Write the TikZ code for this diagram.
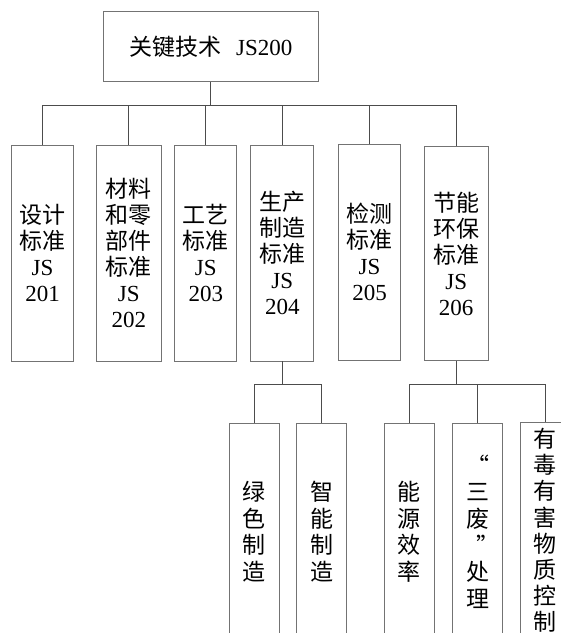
\documentclass[tikz,border=0pt]{standalone}
\usepackage{fontspec}
\setmainfont{Liberation Serif}
\newfontfamily\cjkfont{Noto Sans CJK SC}
\newcommand\lat[1]{{\rmfamily #1}}
\begin{document}
\begin{tikzpicture}[x=1pt,y=-1pt,
  box/.style={draw=black!55, line width=0.8pt, inner sep=0pt, align=center,
    font=\cjkfont\fontsize{23}{26}\selectfont},
  kid/.style={box, minimum height=215.5pt},
  leaf/.style={box, minimum width=50pt, text width=48pt, minimum height=216.7pt,
    font=\cjkfont\fontsize{23}{26.7}\selectfont},
  conn/.style={draw=black!70, line width=0.8pt}]
\useasboundingbox (0,0) rectangle (561,633);
\clip (0,0) rectangle (561,633);
\fill[white] (0,0) rectangle (561,633);

\node[box, minimum width=215pt, minimum height=70pt, text width=210pt] (top) at (210.8,46.6)
  {关键技术\hspace{15pt}\lat{JS200}};

\node[kid, minimum width=61.5pt, text width=58pt] (c1) at (42.6,253.3) {设计\\标准\\\lat{JS}\\\lat{201}};
\node[kid, minimum width=65pt, text width=60pt] (c2) at (128.8,253.3) {材料\\和零\\部件\\标准\\\lat{JS}\\\lat{202}};
\node[kid, minimum width=62pt, text width=58pt] (c3) at (205.8,253.3) {工艺\\标准\\\lat{JS}\\\lat{203}};
\node[kid, minimum width=63pt, text width=58pt] (c4) at (282.3,253.3) {生产\\制造\\标准\\\lat{JS}\\\lat{204}};
\node[kid, minimum width=62pt, text width=58pt, minimum height=215.7pt] (c5) at (369.5,252.2) {检测\\标准\\\lat{JS}\\\lat{205}};
\node[kid, minimum width=63.7pt, text width=58pt, minimum height=214.4pt] (c6) at (456.2,253.5) {节能\\环保\\标准\\\lat{JS}\\\lat{206}};

\node[leaf] (g1) at (254.3,531.7) {绿\\色\\制\\造};
\node[leaf] (g2) at (321.5,531.7) {智\\能\\制\\造};
\node[leaf] (g3) at (409,531.7) {能\\源\\效\\率};
\node[leaf] (g4) at (477.7,531.7) {“\\三\\废\\\hspace*{20pt}”\\处\\理};
\node[leaf, font=\cjkfont\fontsize{23}{26.2}\selectfont] (g5) at (545,530.5) {有\\毒\\有\\害\\物\\质\\控\\制};

\coordinate (b1) at (210.8,105.3);
\draw[conn] (top.south) -- (b1);
\foreach \n in {c1,c2,c3,c4,c5,c6} \draw[conn] (b1) -| (\n.north);

\coordinate (b4) at (282.3,384.3);
\draw[conn] (c4.south) -- (b4);
\foreach \n in {g1,g2} \draw[conn] (b4) -| (\n.north);

\coordinate (b6) at (456.2,384.3);
\draw[conn] (c6.south) -- (b6);
\foreach \n in {g3,g4,g5} \draw[conn] (b6) -| (\n.north);
\end{tikzpicture}
\end{document}
